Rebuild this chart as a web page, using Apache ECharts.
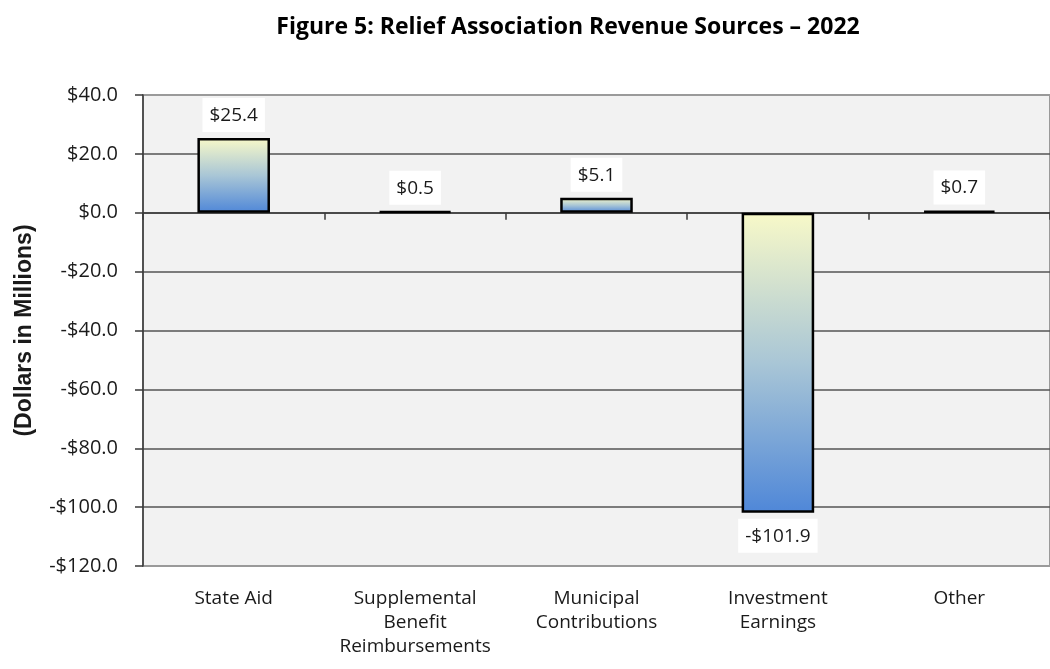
<!DOCTYPE html>
<html>
<head>
<meta charset="utf-8">
<script src="https://cdn.jsdelivr.net/npm/echarts@6/dist/echarts.min.js"></script>
<style>
  html, body { margin: 0; padding: 0; background: #ffffff; }
  #chart { width: 1050px; height: 669px; }
</style>
</head>
<body>
<div id="chart"></div>
<script>
// Revenue sources, 2022 (dollars in millions)
const categories = [
  'State Aid',
  'Supplemental\nBenefit\nReimbursements',
  'Municipal\nContributions',
  'Investment\nEarnings',
  'Other'
];
const revenue = [25.4, 0.5, 5.1, -101.9, 0.7];
const yTicks = { min: -120, max: 40, interval: 20 };

const FONT = '"Open Sans", "Liberation Sans", sans-serif';

function money(v) {
  const s = '$' + Math.abs(v).toFixed(1);
  return v < 0 ? '-' + s : s;
}

const barFill = new echarts.graphic.LinearGradient(0, 0, 0, 1, [
  { offset: 0, color: '#f8f9c8' },
  { offset: 0.5, color: '#a9c6d6' },
  { offset: 1, color: '#4f87d8' }
]);

// positive values are labelled above the bar, negative ones below it
const barData = revenue.map(v => ({
  value: v,
  label: { position: v < 0 ? 'bottom' : 'top' }
}));

const chart = echarts.init(document.getElementById('chart'), null, { renderer: 'canvas' });

chart.setOption({
  backgroundColor: '#ffffff',
  animation: false,
  title: {
    text: 'Figure 5: Relief Association Revenue Sources \u2013 2022',
    left: 563,
    top: 11,
    textAlign: 'center',
    textStyle: { fontFamily: FONT, fontWeight: 'bold', fontSize: 23, color: '#000000' }
  },
  grid: {
    left: 143,
    top: 95,
    width: 920,
    height: 471,
    show: true,
    backgroundColor: '#f2f2f2',
    borderColor: '#9a9a9a',
    borderWidth: 2,
    containLabel: false
  },
  xAxis: [
    {
      type: 'category',
      data: categories,
      position: 'bottom',
      axisLine: { onZero: true, lineStyle: { color: '#3a3a3a', width: 1.5 } },
      axisTick: { show: true, length: 7, lineStyle: { color: '#3a3a3a', width: 1.5 } },
      axisLabel: { show: false },
      splitLine: { show: false }
    },
    {
      type: 'category',
      data: categories,
      position: 'bottom',
      axisLine: { show: false, onZero: false },
      axisTick: { show: false },
      splitLine: { show: false },
      axisLabel: {
        margin: 21,
        fontFamily: FONT,
        fontSize: 19,
        lineHeight: 24,
        color: '#1a1a1a',
        interval: 0
      }
    }
  ],
  yAxis: {
    type: 'value',
    min: yTicks.min,
    max: yTicks.max,
    interval: yTicks.interval,
    name: '(Dollars in Millions)',
    nameLocation: 'middle',
    nameGap: 107,
    nameRotate: 90,
    nameTextStyle: {
      fontFamily: '"Liberation Sans", Arial, sans-serif',
      fontWeight: 'bold',
      fontSize: 23,
      color: '#1a1a1a'
    },
    axisLine: { show: true, lineStyle: { color: '#3a3a3a', width: 1.5 } },
    axisTick: { show: true, inside: false, length: 8, lineStyle: { color: '#3a3a3a', width: 1.5 } },
    axisLabel: {
      margin: 25,
      fontFamily: FONT,
      fontSize: 20,
      color: '#1a1a1a',
      formatter: money
    },
    splitLine: {
      show: true,
      showMinLine: false,
      showMaxLine: false,
      lineStyle: { color: '#555555', width: 1.5 }
    }
  },
  series: [
    {
      type: 'bar',
      xAxisIndex: 0,
      data: barData,
      barWidth: '40%',
      itemStyle: { color: barFill, borderColor: '#000000', borderWidth: 2.5 },
      label: {
        show: true,
        distance: 6,
        formatter: p => money(p.value),
        fontFamily: FONT,
        fontSize: 19,
        color: '#1a1a1a',
        backgroundColor: '#ffffff',
        padding: [8, 7, 7, 7]
      }
    }
  ]
});
</script>
</body>
</html>
